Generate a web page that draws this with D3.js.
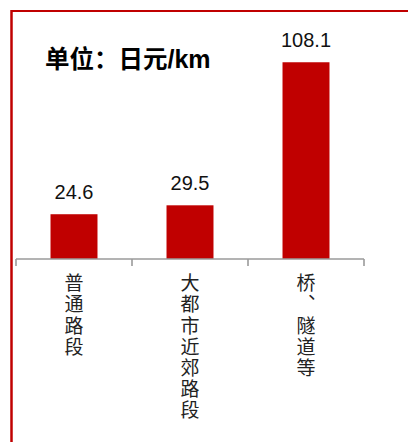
<!DOCTYPE html>
<html>
<head>
<meta charset="utf-8">
<script src="https://cdn.jsdelivr.net/npm/d3@7"></script>
<style>
  html, body { margin: 0; padding: 0; background: #fff; }
  svg { display: block; }
</style>
</head>
<body>
<svg id="chart" width="408" height="442"></svg>
<script>
const categories = ["普通路段", "大都市近郊路段", "桥、隧道等"];
const values = [24.6, 29.5, 108.1];
const valueLabels = ["24.6", "29.5", "108.1"];
const unitLabel = "单位：日元";
const unitSuffix = "/km";

const svg = d3.select("#chart");
const red = "#C00000";

// frame border (top and left)
svg.append("line").attr("x1", 11).attr("y1", 11).attr("x2", 408).attr("y2", 11)
  .attr("stroke", red).attr("stroke-width", 2);
svg.append("line").attr("x1", 11.5).attr("y1", 10).attr("x2", 11.5).attr("y2", 442)
  .attr("stroke", red).attr("stroke-width", 2.5);

const x = d3.scaleBand().domain(categories).range([16, 364])
  .paddingInner(0.595).paddingOuter(0.2975);
const y = d3.scaleLinear().domain([0, 120]).range([259, 40.6]);

// bars
svg.selectAll("rect.bar").data(categories).enter().append("rect")
  .attr("class", "bar")
  .attr("x", d => x(d))
  .attr("width", x.bandwidth())
  .attr("y", (d, i) => y(values[i]))
  .attr("height", (d, i) => y(0) - y(values[i]))
  .attr("fill", red);

// value labels
svg.selectAll("text.val").data(categories).enter().append("text")
  .attr("class", "val")
  .attr("x", d => x(d) + x.bandwidth() / 2)
  .attr("y", (d, i) => y(values[i]) - 15)
  .attr("text-anchor", "middle")
  .attr("font-family", "'Liberation Sans', Arial, sans-serif")
  .attr("font-size", 20)
  .attr("fill", "#111")
  .text((d, i) => valueLabels[i]);

// axis line with boundary ticks
const step = x.step();
const gap = step - x.bandwidth();
const axisY = y(0);
const axisG = svg.append("g").attr("stroke", "#9a9a9a").attr("stroke-width", 1.6);
axisG.append("line").attr("x1", x.range()[0]).attr("x2", x.range()[1])
  .attr("y1", axisY).attr("y2", axisY);
const bounds = categories.map(c => x(c) - gap / 2).concat([x(categories[categories.length - 1]) + x.bandwidth() + gap / 2]);
axisG.selectAll("line.tick").data(bounds).enter().append("line")
  .attr("class", "tick")
  .attr("x1", d => d).attr("x2", d => d)
  .attr("y1", axisY).attr("y2", axisY + 7);

// vertical category labels
const fs = 19, pitch = 21.2;
svg.selectAll("text.cat").data(categories).enter().append("text")
  .attr("class", "cat")
  .attr("x", d => x(d) + x.bandwidth() / 2)
  .attr("y", 283 - fs / 2)
  .attr("font-family", "'Noto Sans CJK SC', sans-serif")
  .attr("font-size", fs)
  .attr("fill", "#222")
  .style("writing-mode", "vertical-rl")
  .style("text-orientation", "upright")
  .style("letter-spacing", (pitch - fs) + "px")
  .text(d => d);

// unit title
const title = svg.append("text").attr("x", 45).attr("y", 68)
  .attr("font-weight", "bold").attr("fill", "#000");
title.append("tspan").attr("font-family", "'Noto Sans CJK SC', sans-serif")
  .attr("font-size", 24.5).text(unitLabel);
title.append("tspan").attr("font-family", "'Liberation Sans', Arial, sans-serif")
  .attr("font-size", 25).text(unitSuffix);
</script>
</body>
</html>
